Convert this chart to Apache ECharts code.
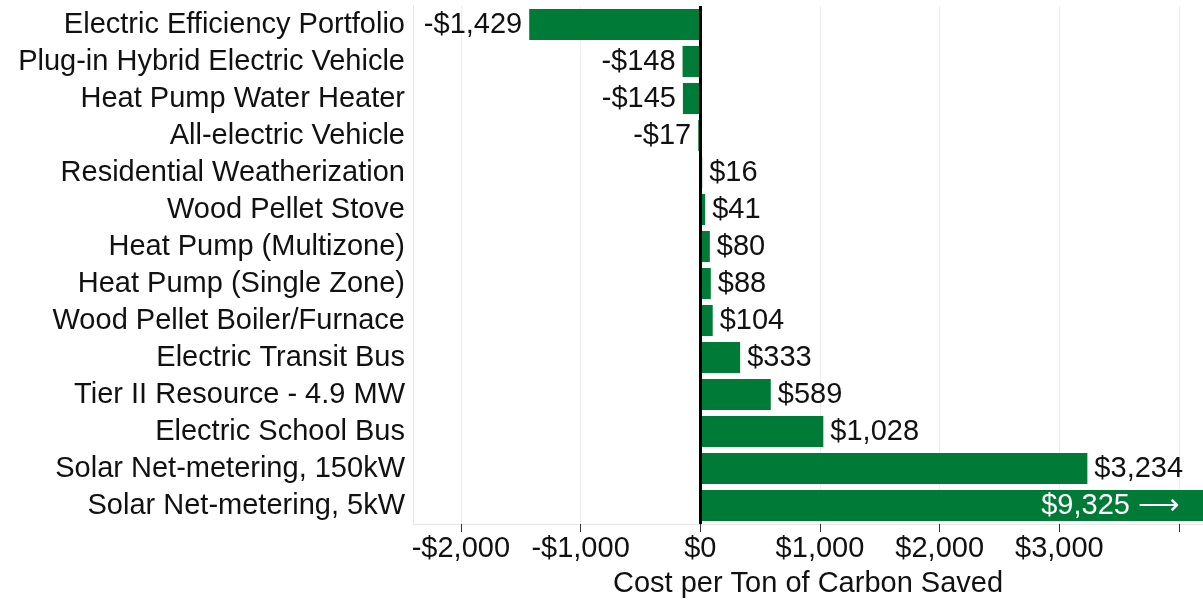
<!DOCTYPE html>
<html>
<head>
<meta charset="utf-8">
<script src="https://cdn.jsdelivr.net/npm/echarts@6/dist/echarts.min.js"></script>
<style>
  html, body { margin: 0; padding: 0; background: #fff; }
  #chart { width: 1203px; height: 604px; }
</style>
</head>
<body>
<div id="chart"></div>
<script>
// categories, top to bottom
const categories = [
  'Electric Efficiency Portfolio',
  'Plug-in Hybrid Electric Vehicle',
  'Heat Pump Water Heater',
  'All-electric Vehicle',
  'Residential Weatherization',
  'Wood Pellet Stove',
  'Heat Pump (Multizone)',
  'Heat Pump (Single Zone)',
  'Wood Pellet Boiler/Furnace',
  'Electric Transit Bus',
  'Tier II Resource - 4.9 MW',
  'Electric School Bus',
  'Solar Net-metering, 150kW',
  'Solar Net-metering, 5kW'
];
// cost per ton of carbon saved ($)
const costs = [-1429, -148, -145, -17, 16, 41, 80, 88, 104, 333, 589, 1028, 3234, 9325];

// axis
const axisMin = -2400;
const axisMax = 4200;
const tickValues = [-2000, -1000, 0, 1000, 2000, 3000, 4000];
const labelValues = [-2000, -1000, 0, 1000, 2000, 3000];

const green = '#007a37';
const ink = '#111';
const font = 'Liberation Sans, Arial, sans-serif';
const fs = 29;

function money(v) {
  return (v < 0 ? '-' : '') + '$' + Math.abs(v).toLocaleString('en-US');
}

// bar items, label side depends on sign / overflow
const barData = costs.map(function (v) {
  if (v > axisMax) {
    return {
      value: v,
      label: {
        position: 'insideRight', distance: 23, color: '#fff',
        formatter: function (p) { return money(p.value) + ' \u27F6'; }
      }
    };
  }
  return { value: v, label: { position: v < 0 ? 'left' : 'right' } };
});

const chart = echarts.init(document.getElementById('chart'));
chart.setOption({
  animation: false,
  grid: { left: 413, right: 0, top: 6, bottom: 80, containLabel: false },
  xAxis: {
    type: 'value',
    min: axisMin,
    max: axisMax,
    name: 'Cost per Ton of Carbon Saved',
    nameLocation: 'middle',
    nameGap: 45,
    nameTextStyle: { fontSize: fs, color: ink, fontFamily: font },
    axisLine: { show: true, lineStyle: { color: '#e6e6e6', width: 1 } },
    axisTick: { show: true, customValues: tickValues, length: 8, lineStyle: { color: '#333' } },
    axisLabel: {
      customValues: labelValues, margin: 10,
      fontSize: fs, color: ink, fontFamily: font,
      formatter: money
    },
    splitLine: { show: true, lineStyle: { color: '#ececec', width: 1 } }
  },
  yAxis: {
    type: 'category',
    data: categories,
    inverse: true,
    axisLine: { show: true, onZero: false, lineStyle: { color: '#e6e6e6', width: 1 } },
    axisTick: { show: false },
    axisLabel: { interval: 0, hideOverlap: false, margin: 8, fontSize: fs, color: ink, fontFamily: font }
  },
  series: [{
    type: 'bar',
    data: barData,
    barCategoryGap: '16%',
    clip: true,
    itemStyle: { color: green },
    label: {
      show: true, distance: 7,
      fontSize: fs, color: ink, fontFamily: font,
      formatter: function (p) { return money(p.value); }
    },
    markLine: {
      silent: true,
      symbol: 'none',
      label: { show: false },
      lineStyle: { color: '#000', width: 3, type: 'solid' },
      data: [{ xAxis: 0 }]
    }
  }]
});
</script>
</body>
</html>
